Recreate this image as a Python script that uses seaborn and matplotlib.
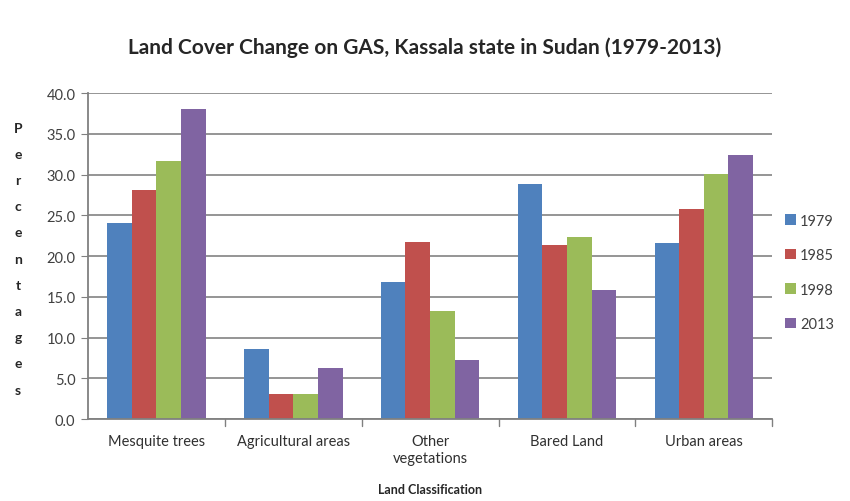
import matplotlib
matplotlib.use("Agg")
import matplotlib.pyplot as plt
import seaborn as sns
import pandas as pd

categories = ["Mesquite trees", "Agricultural areas", "Other\nvegetations", "Bared Land", "Urban areas"]
years = ["1979", "1985", "1998", "2013"]
v1979 = [24.0, 8.6, 16.8, 28.8, 21.6]
v1985 = [28.1, 3.1, 21.7, 21.3, 25.8]
v1998 = [31.6, 3.1, 13.2, 22.3, 30.1]
v2013 = [38.1, 6.3, 7.2, 15.8, 32.4]
yticks = [0, 5, 10, 15, 20, 25, 30, 35, 40]
colors = ["#4F81BD", "#C0504D", "#9BBB59", "#8064A2"]

rows = []
for yr, vals in zip(years, [v1979, v1985, v1998, v2013]):
    for c, v in zip(categories, vals):
        rows.append({"cat": c, "year": yr, "value": v})
df = pd.DataFrame(rows)

sns.set_style("white")
plt.rcParams["font.family"] = ["Lato", "DejaVu Sans"]

fig = plt.figure(figsize=(8.5, 5.02), dpi=100)
ax = fig.add_axes([0.1035, 0.1633, 0.805, 0.6494])

sns.barplot(data=df, x="cat", y="value", hue="year", palette=colors,
            width=0.72, ax=ax, saturation=1, edgecolor="none", linewidth=0)

ax.set_ylim(0, 40)
ax.set_xlim(-0.5, 4.5)
ax.set_yticks(yticks)
ax.set_yticklabels([f"{t:.1f}" for t in yticks], fontsize=10.5, color="#404040")
ax.set_xticks(range(len(categories)))
ax.set_xticklabels(categories, fontsize=10.5, color="#303030")
ax.tick_params(axis="x", length=0, pad=11)
ax.tick_params(axis="y", length=5, color="#808080", direction="out", left=True, pad=4)
for b in [0.5, 1.5, 2.5, 3.5, 4.5]:
    ax.plot([b, b], [0, -0.9], color="#808080", lw=1, clip_on=False)
ax.yaxis.grid(True, color="#8c8c8c", lw=1.3)
ax.set_axisbelow(True)
for s in ["top", "right"]:
    ax.spines[s].set_visible(False)
ax.spines["left"].set_color("#808080")
ax.spines["bottom"].set_color("#808080")
ax.spines["left"].set_linewidth(1.3)
ax.spines["bottom"].set_linewidth(1.3)
ax.set_xlabel("Land Classification", fontsize=9, fontweight="bold", labelpad=13)
ax.set_ylabel("")

leg = ax.legend(loc="center left", bbox_to_anchor=(1.0, 0.45), frameon=False,
                fontsize=10.5, handlelength=0.7, handleheight=0.7,
                labelspacing=1.4, handletextpad=0.3)
for t in leg.get_texts():
    t.set_color("#404040")

fig.text(0.5, 0.905, "Land Cover Change on GAS, Kassala state in Sudan (1979-2013)",
         ha="center", va="center", fontsize=15, fontweight="bold")
fig.text(0.021, 0.483, "\n".join("Percentages"), ha="center", va="center",
         fontsize=10, fontweight="bold", linespacing=2.42)

fig.savefig("out.png", dpi=100)
